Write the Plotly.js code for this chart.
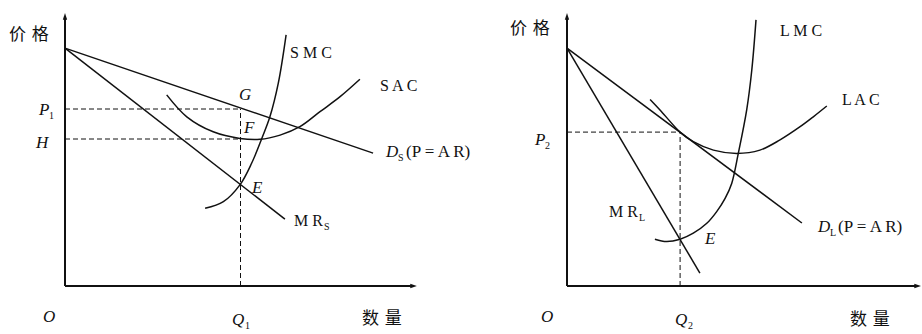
<!DOCTYPE html>
<html>
<head>
<meta charset="utf-8">
<script src="https://cdn.plot.ly/plotly-3.0.1.min.js"></script>
<style>
  html, body { margin: 0; padding: 0; background: #fff; }
  #plot { width: 922px; height: 334px; }
</style>
</head>
<body>
<div id="plot"></div>
<script>
// left panel: short run (S)
var demandSX = [0, 10.27];
var demandSY = [7.93, 4.43];
var mrSX = [0, 7.33];
var mrSY = [7.93, 2.23];
var smcX = [4.67, 5.28, 5.83, 6.22, 6.56, 6.83, 7.11, 7.37];
var smcY = [2.59, 2.81, 3.37, 4.09, 4.92, 5.64, 6.76, 8.37];
var sacX = [3.39, 4.06, 4.94, 5.83, 6.5, 7.17, 7.83, 8.5, 9.17, 9.83];
var sacY = [6.37, 5.64, 5.14, 4.92, 4.89, 5.03, 5.31, 5.81, 6.31, 6.89];
var q1 = 5.85, p1 = 5.9, h = 4.9;

// right panel: long run (L)
var demandLX = [0, 7.83];
var demandLY = [7.93, 2.1];
var mrLX = [0, 4.43];
var mrLY = [7.93, 0.43];
var lmcX = [2.93, 3.32, 3.77, 4.21, 4.66, 4.99, 5.27, 5.49, 5.71, 5.99, 6.16, 6.3];
var lmcY = [1.56, 1.48, 1.56, 1.76, 2.09, 2.48, 2.92, 3.42, 4.42, 5.87, 7.2, 8.87];
var lacX = [2.77, 3.1, 3.77, 4.21, 4.88, 5.66, 6.43, 7.1, 7.77, 8.21, 8.66];
var lacY = [6.22, 5.87, 5.13, 4.81, 4.53, 4.42, 4.53, 4.87, 5.31, 5.64, 6.0];
var q2 = 3.77, p2 = 5.13;

var axisTopY = 9.1;
var axisEndS = 11.73, axisEndL = 11.8;

var ink = '#111';
var solid = {color: ink, width: 1.5};
var dashed = {color: ink, width: 1, dash: '5px,3px'};
var axisLine = {color: ink, width: 2};

function tr(x, y, line, xa, ya, shape) {
  return {x: x, y: y, mode: 'lines', type: 'scatter', line: Object.assign({shape: shape || 'linear'}, line),
          xaxis: xa, yaxis: ya, hoverinfo: 'skip', showlegend: false};
}
// arrow heads at the ends of the axes
function heads(x, y, angles, xa, ya) {
  return {x: x, y: y, mode: 'markers', type: 'scatter', xaxis: xa, yaxis: ya, hoverinfo: 'skip', showlegend: false,
          marker: {symbol: 'arrow', size: 7, angle: angles, color: ink, line: {width: 0}}};
}

var data = [
  tr(demandSX, demandSY, solid, 'x', 'y'),
  tr(mrSX, mrSY, solid, 'x', 'y'),
  tr(smcX, smcY, solid, 'x', 'y', 'spline'),
  tr(sacX, sacY, solid, 'x', 'y', 'spline'),
  tr([0, q1], [p1, p1], dashed, 'x', 'y'),
  tr([0, q1], [h, h], dashed, 'x', 'y'),
  tr([q1, q1], [0, p1], dashed, 'x', 'y'),
  tr([0, 0], [0, axisTopY - 0.2], axisLine, 'x', 'y'),
  tr([0, axisEndS - 0.2], [0, 0], axisLine, 'x', 'y'),
  heads([0, axisEndS], [axisTopY, 0], [0, 90], 'x', 'y'),

  tr(demandLX, demandLY, solid, 'x2', 'y2'),
  tr(mrLX, mrLY, solid, 'x2', 'y2'),
  tr(lmcX, lmcY, solid, 'x2', 'y2', 'spline'),
  tr(lacX, lacY, solid, 'x2', 'y2', 'spline'),
  tr([0, q2], [p2, p2], dashed, 'x2', 'y2'),
  tr([q2, q2], [0, p2], dashed, 'x2', 'y2'),
  tr([0, 0], [0, axisTopY - 0.2], axisLine, 'x2', 'y2'),
  tr([0, axisEndL - 0.2], [0, 0], axisLine, 'x2', 'y2'),
  heads([0, axisEndL], [axisTopY, 0], [0, 90], 'x2', 'y2')
];

var serif = 'Liberation Serif, Noto Sans CJK SC, serif';
function lab(text, x, y, xr, yr, anchor, size, italic, xshift, yshift) {
  return {text: text, x: x, y: y, xref: xr, yref: yr, showarrow: false, xanchor: anchor || 'center',
          yanchor: 'middle', xshift: xshift || 0, yshift: yshift || 0,
          font: {family: serif, size: size || 16, color: ink, style: italic ? 'italic' : 'normal'}};
}
// a label with a small subscript, and an optional tail after it
function subbed(main, sub, x, y, xr, yr, size, italic, mainW, tail) {
  var out = [lab(main, x, y, xr, yr, 'left', size, italic),
             lab(sub, x, y, xr, yr, 'left', 10, false, mainW + 1, -6)];
  if (tail) out.push(lab(tail, x, y, xr, yr, 'left', 17, false, mainW + 9));
  return out;
}

var annotations = [].concat(
  lab('价\u2004格', -1.2, 8.37, 'x', 'y', 'center', 17),
  subbed('P', '1', -0.97, 5.9, 'x', 'y', 17, true, 10),
  lab('H', -0.43, 4.77, 'x', 'y', 'right', 17, true),
  lab('O', -0.53, -1.03, 'x', 'y', 'center', 17, true),
  subbed('Q', '1', 5.5, -1.13, 'x', 'y', 17, true, 12),
  lab('数\u2004量', 10.57, -1.07, 'x', 'y', 'center', 17),
  lab('G', 6.0, 6.37, 'x', 'y', 'center', 17, true),
  lab('F', 6.13, 5.27, 'x', 'y', 'center', 17, true),
  lab('E', 6.4, 3.3, 'x', 'y', 'center', 17, true),
  lab('S M C', 7.43, 7.77, 'x', 'y', 'left'),
  lab('S A C', 10.43, 6.7, 'x', 'y', 'left'),
  subbed('D', 'S', 10.6, 4.47, 'x', 'y', 17, true, 12, '(P = A R)'),
  subbed('M R', 'S', 7.57, 2.2, 'x', 'y', 16, false, 29),

  lab('价\u2004格', -1.23, 8.6, 'x2', 'y2', 'center', 17),
  lab('L M C', 7.03, 8.53, 'x2', 'y2', 'left'),
  lab('L A C', 9.1, 6.23, 'x2', 'y2', 'left'),
  subbed('P', '2', -1.17, 4.87, 'x2', 'y2', 17, true, 10),
  subbed('M R', 'L', 1.33, 2.5, 'x2', 'y2', 16, false, 29),
  lab('E', 4.77, 1.6, 'x2', 'y2', 'center', 17, true),
  subbed('D', 'L', 8.27, 1.97, 'x2', 'y2', 17, true, 12, '(P = A R)'),
  lab('O', -0.67, -1.03, 'x2', 'y2', 'center', 17, true),
  subbed('Q', '2', 3.53, -1.13, 'x2', 'y2', 17, true, 12),
  lab('数\u2004量', 10.1, -1.13, 'x2', 'y2', 'center', 17)
);

var hidden = {visible: false, showgrid: false, zeroline: false, fixedrange: true};
var layout = {
  width: 922, height: 334,
  margin: {l: 0, r: 0, t: 0, b: 0},
  paper_bgcolor: '#fff', plot_bgcolor: '#fff',
  xaxis: Object.assign({domain: [0, 0.5], range: [-65 / 30, 396 / 30]}, hidden),
  yaxis: Object.assign({domain: [0, 1], range: [-48 / 30, 286 / 30]}, hidden),
  xaxis2: Object.assign({domain: [0.5, 1], range: [-106 / 30, 355 / 30]}, hidden),
  yaxis2: Object.assign({domain: [0, 1], range: [-48 / 30, 286 / 30], anchor: 'x2'}, hidden),
  annotations: annotations,
  showlegend: false
};

Plotly.newPlot('plot', data, layout, {staticPlot: true, displayModeBar: false});
</script>
</body>
</html>
